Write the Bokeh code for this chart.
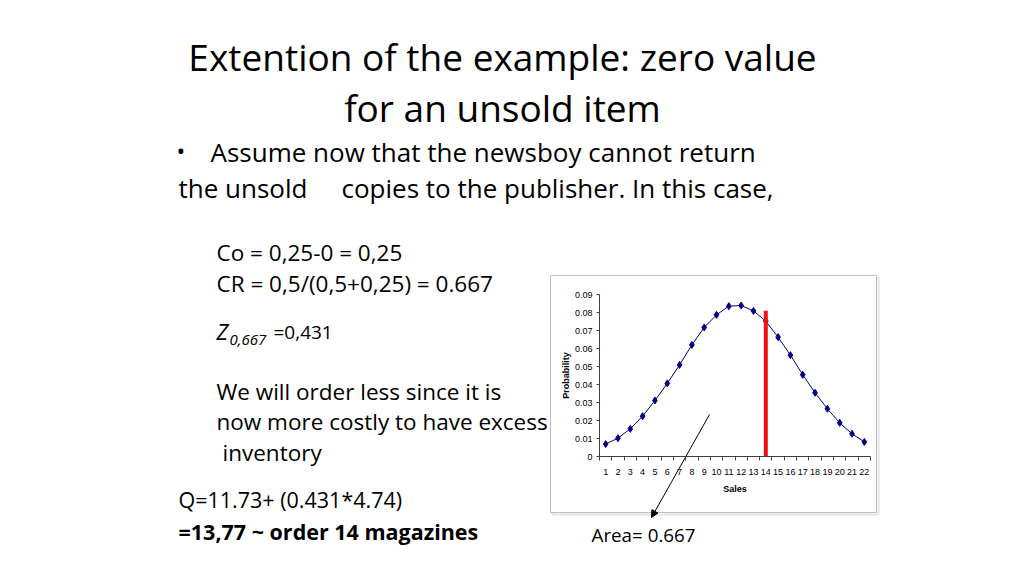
from bokeh.core.properties import value
from bokeh.embed import file_html
from bokeh.layouts import column
from bokeh.models import Arrow, BoxAnnotation, FixedTicker, NormalHead, Range1d
from bokeh.plotting import figure
from bokeh.resources import INLINE

# chart data
sales = list(range(1, 23))
probability = [0.0069, 0.0102, 0.0154, 0.0224, 0.0311, 0.0406, 0.0509, 0.0620,
               0.0717, 0.0787, 0.0835, 0.0839, 0.0809, 0.0752, 0.0663, 0.0563,
               0.0454, 0.0354, 0.0265, 0.0187, 0.0126, 0.0081]
order_qty = 14
order_top = 0.081
y_ticks = [0, 0.01, 0.02, 0.03, 0.04, 0.05, 0.06, 0.07, 0.08, 0.09]
y_tick_labels = ["0", "0.01", "0.02", "0.03", "0.04", "0.05", "0.06", "0.07", "0.08", "0.09"]
x_boundaries = [s - 0.5 for s in sales] + [sales[-1] + 0.5]

FONT = "Open Sans"
NAVY = "#000080"
W, H = 1008, 560

# chart box on the slide (pixels) and the chart's inner borders
BOX_L, BOX_T, BOX_R, BOX_B = 550, 275, 876, 512
B_LEFT, B_RIGHT, B_TOP, B_BOTTOM = 49, 6, 19, 56

# slide background in pixel space; the column lines its frame up with the
# chart frame, so the x range starts/ends at the chart's side borders
bg = figure(width=W, height=H, output_backend="svg", toolbar_location=None,
            title=None, x_range=Range1d(B_LEFT, W - B_RIGHT), y_range=Range1d(H, 0),
            x_axis_location=None, y_axis_location=None, min_border=0)
bg.outline_line_color = None
bg.grid.visible = False


def text(x, baseline, s, size, style="normal", align="left"):
    # svg text sits about 0.44em below the given y
    bg.text(x=[x], y=[baseline - 0.44 * size], text=[s], text_font=value(FONT),
            text_font_size=f"{size}px", text_font_style=style,
            text_color="black", text_align=align, text_baseline="alphabetic")


text(502, 72, "Extention of the example: zero value", 37, align="center")
text(502, 123, "for an unsold item", 37, align="center")
text(176, 161, "\u2022", 23)
text(210, 163, "Assume now that the newsboy cannot return", 26)
text(178, 199, "the unsold", 26)
text(341, 199, "copies to the publisher. In this case,", 26)
text(216, 262, "Co = 0,25-0 = 0,25", 22.5)
text(216, 293, "CR = 0,5/(0,5+0,25) = 0.667", 22.5)
text(216, 340, "Z", 22, style="italic")
text(229, 346, "0,667", 15, style="italic")
text(273, 340, "=0,431", 19)
text(216, 401, "We will order less since it is", 22.5)
text(216, 431, "now more costly to have excess", 22.5)
text(222, 462, "inventory", 22.5)
text(178, 508, "Q=11.73+ (0.431*4.74)", 21.5)
text(178, 540, "=13,77 ~ order 14 magazines", 21.5, style="bold")
text(591, 543, "Area= 0.667", 18.8)

bg.add_layout(BoxAnnotation(left=BOX_L + 2, right=BOX_R + 2, top=BOX_T + 2, bottom=BOX_B + 2,
                            fill_alpha=0, line_color="#a8a8a8", line_width=2))
bg.add_layout(BoxAnnotation(left=BOX_L, right=BOX_R, top=BOX_T, bottom=BOX_B,
                            fill_color="white", fill_alpha=1,
                            line_color="#303030", line_width=1))
bg.add_layout(Arrow(x_start=709, y_start=414, x_end=651, y_end=517,
                    line_color="black", line_width=1,
                    end=NormalHead(size=7, fill_color="black", line_color="black")))

# the chart itself, laid over the box
p = figure(width=BOX_R - BOX_L, height=BOX_B - BOX_T, output_backend="svg",
           toolbar_location=None, title=None,
           x_range=Range1d(0.5, 22.5), y_range=Range1d(0, 0.09),
           min_border_left=B_LEFT, min_border_right=B_RIGHT,
           min_border_top=B_TOP, min_border_bottom=B_BOTTOM,
           margin=(-(H - BOX_T), 0, H - BOX_B, BOX_L))
p.outline_line_color = None
p.grid.visible = False
p.background_fill_alpha = 0
p.border_fill_alpha = 0

p.line(sales, probability, line_color=NAVY, line_width=1)
p.scatter(sales, probability, marker="diamond", size=7, color=NAVY)
p.segment(x0=[order_qty], y0=[0], x1=[order_qty], y1=[order_top],
          line_color="#ee1111", line_width=4)

xa = p.xaxis[0]
xa.ticker = FixedTicker(ticks=sales, minor_ticks=x_boundaries)
xa.major_tick_out = 0
xa.major_tick_in = 0
xa.minor_tick_out = 4
xa.minor_tick_in = 0
xa.major_label_standoff = 8
xa.axis_label = "Sales"
xa.axis_label_standoff = 6

ya = p.yaxis[0]
ya.ticker = FixedTicker(ticks=y_ticks, minor_ticks=[])
ya.major_label_overrides = dict(zip(y_ticks, y_tick_labels))
ya.major_tick_out = 3
ya.major_tick_in = 0
ya.major_label_standoff = 4
ya.axis_label = "Probability"
ya.axis_label_standoff = 1

for ax in (xa, ya):
    ax.axis_line_color = "#404040"
    ax.major_tick_line_color = "#404040"
    ax.minor_tick_line_color = "#404040"
    ax.major_label_text_font = "Liberation Sans"
    ax.major_label_text_font_size = "9px"
    ax.major_label_text_color = "black"
    ax.axis_label_text_font = "Liberation Sans"
    ax.axis_label_text_font_size = "9px"
    ax.axis_label_text_font_style = "bold"
    ax.axis_label_text_color = "black"

layout = column(bg, p, spacing=0)
open("out.html", "w").write(file_html(layout, INLINE))
